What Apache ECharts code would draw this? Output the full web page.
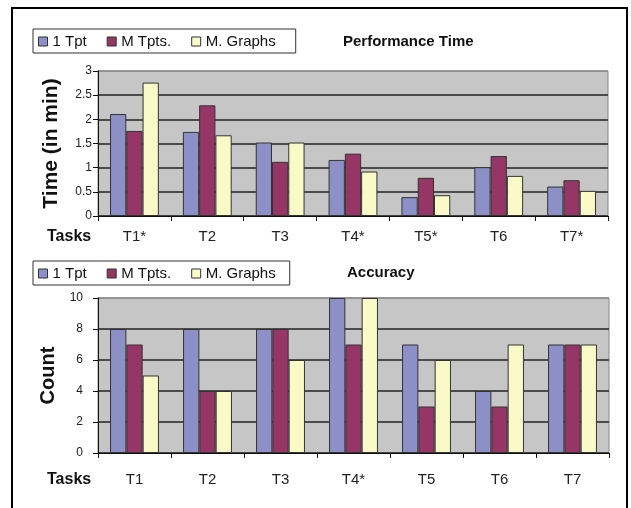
<!DOCTYPE html>
<html>
<head>
<meta charset="utf-8">
<script src="https://cdn.jsdelivr.net/npm/echarts@6/dist/echarts.min.js"></script>
<style>html,body{margin:0;padding:0;background:#fff}#c{width:631px;height:508px}</style>
</head>
<body>
<div id="c"></div>
<script>
var seriesNames = ['1 Tpt', 'M Tpts.', 'M. Graphs'];
var tasksTime = ['T1*', 'T2', 'T3', 'T4*', 'T5*', 'T6', 'T7*'];
var time1Tpt = [2.11, 1.74, 1.52, 1.16, 0.39, 1.01, 0.61];
var timeMTpts = [1.76, 2.29, 1.12, 1.29, 0.79, 1.24, 0.74];
var timeMGraphs = [2.76, 1.67, 1.52, 0.92, 0.43, 0.83, 0.52];
var tasksAcc = ['T1', 'T2', 'T3', 'T4*', 'T5', 'T6', 'T7'];
var acc1Tpt = [8, 8, 8, 10, 7, 4, 7];
var accMTpts = [7, 4, 8, 7, 3, 3, 7];
var accMGraphs = [5, 4, 6, 10, 6, 7, 7];

var FONT = '"Liberation Sans", Arial, sans-serif';
var colors = ['#8c90c6', '#963667', '#fafac8'];
var chart = echarts.init(document.getElementById('c'), null, {renderer: 'canvas'});

function legend(top, padR) {
  return {
    left: 33, top: top, orient: 'horizontal',
    data: seriesNames,
    icon: 'rect', itemWidth: 9, itemHeight: 9, itemGap: 20,
    padding: [5, padR, 4, 5],
    borderColor: '#333', borderWidth: 1, backgroundColor: '#fff',
    itemStyle: {borderColor: '#333', borderWidth: 1},
    textStyle: {fontFamily: FONT, fontSize: 15, color: '#111'},
    selectedMode: false
  };
}
function yAxis(idx, max, interval, name, nameSize, labelMargin, splitColors) {
  return {
    type: 'value', gridIndex: idx, min: 0, max: max, interval: interval,
    name: name, nameLocation: 'middle', nameRotate: 90, nameGap: 36,
    nameTextStyle: {fontFamily: FONT, fontSize: nameSize, fontWeight: 'bold', color: '#111'},
    axisLine: {show: true, lineStyle: {color: '#111', width: 1}},
    axisTick: {show: true, length: 5, lineStyle: {color: '#111'}},
    axisLabel: {fontFamily: FONT, fontSize: 12, color: '#222', margin: labelMargin},
    splitLine: {show: true, lineStyle: {color: splitColors, width: 1.5}}
  };
}
function xAxis(idx, data, margin) {
  return {
    type: 'category', gridIndex: idx, data: data,
    axisLine: {show: true, lineStyle: {color: '#111', width: 1}},
    axisTick: {show: true, length: 5, lineStyle: {color: '#111'}},
    axisLabel: {fontFamily: FONT, fontSize: 15, color: '#222', margin: margin}
  };
}
function bars(xi, name, data, color) {
  return {
    type: 'bar', name: name, xAxisIndex: xi, yAxisIndex: xi, data: data,
    barGap: '0%', barCategoryGap: '33%',
    itemStyle: {color: color, borderColor: '#333', borderWidth: 1},
    animation: false
  };
}

chart.setOption({
  animation: false,
  title: [
    {text: 'Performance Time', left: 343, top: 34, padding: 0,
     textStyle: {fontFamily: FONT, fontSize: 15, fontWeight: 'bold', color: '#111'}},
    {text: 'Accuracy', left: 347, top: 265, padding: 0,
     textStyle: {fontFamily: FONT, fontSize: 15, fontWeight: 'bold', color: '#111'}}
  ],
  legend: [legend(29, 20), legend(261, 14)],
  grid: [
    {left: 98, right: 23, top: 71, height: 145, show: true, backgroundColor: '#c6c6c6', borderColor: '#888', borderWidth: 1},
    {left: 98, right: 22, top: 298, height: 155, show: true, backgroundColor: '#c6c6c6', borderColor: '#888', borderWidth: 1}
  ],
  xAxis: [xAxis(0, tasksTime, 13), xAxis(1, tasksAcc, 19)],
  yAxis: [
    yAxis(0, 3, 0.5, 'Time (in min)', 21, 6, ['#222', '#222', '#222', '#222', '#222', '#222', '#888']),
    yAxis(1, 10, 2, 'Count', 20, 15, ['#222', '#222', '#222', '#222', '#222', '#888'])
  ],
  series: [
    bars(0, seriesNames[0], time1Tpt, colors[0]),
    bars(0, seriesNames[1], timeMTpts, colors[1]),
    bars(0, seriesNames[2], timeMGraphs, colors[2]),
    bars(1, seriesNames[0], acc1Tpt, colors[0]),
    bars(1, seriesNames[1], accMTpts, colors[1]),
    bars(1, seriesNames[2], accMGraphs, colors[2])
  ],
  graphic: [
    {type: 'rect', shape: {x: 12, y: 8, width: 615, height: 520}, style: {fill: 'none', stroke: '#000', lineWidth: 2}, silent: true},
    {type: 'text', left: 47, top: 229, style: {text: 'Tasks', font: 'bold 16px ' + FONT, fill: '#111'}},
    {type: 'text', left: 47, top: 472, style: {text: 'Tasks', font: 'bold 16px ' + FONT, fill: '#111'}}
  ]
});
</script>
</body>
</html>
